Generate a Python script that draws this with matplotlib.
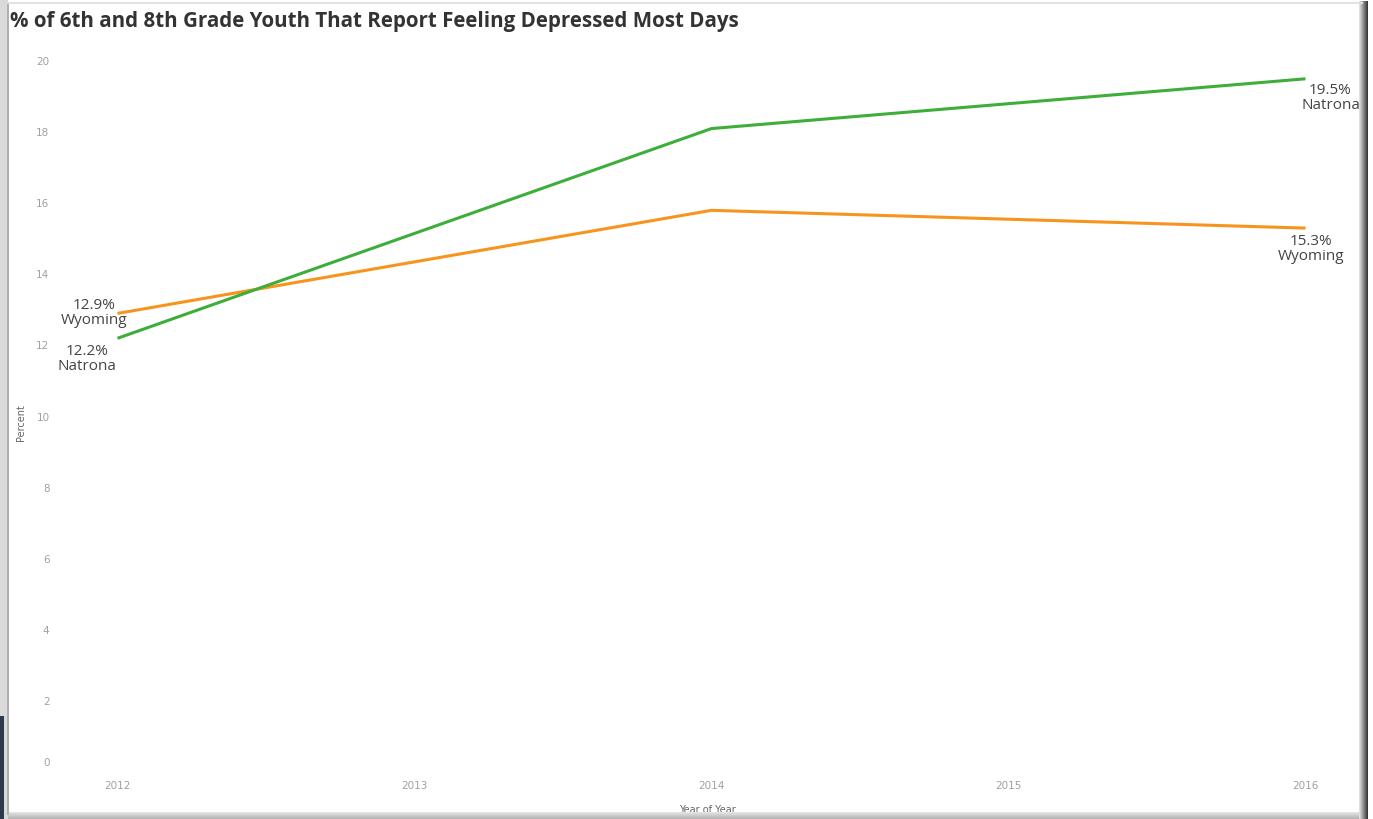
import numpy as np
import matplotlib
matplotlib.use("Agg")
import matplotlib.pyplot as plt
from matplotlib.patches import Rectangle
from matplotlib.transforms import ScaledTranslation

# ---- data -------------------------------------------------------------
years = [2012, 2014, 2016]
natrona = [12.2, 18.1, 19.5]
wyoming = [12.9, 15.8, 15.3]
series_names = ["Natrona", "Wyoming"]
x_ticks = [2012, 2013, 2014, 2015, 2016]
y_ticks = [0, 2, 4, 6, 8, 10, 12, 14, 16, 18, 20]

title = "% of 6th and 8th Grade Youth That Report Feeling Depressed Most Days"

GREEN = "#3DAE3A"
ORANGE = "#F7941D"
TEXT = "#444444"
TICK = "#a0a0a0"

W, H = 1373, 819
fig = plt.figure(figsize=(W / 100, H / 100), dpi=100)
fig.patch.set_facecolor("white")


def fx(p):
    return p / W


def fy(p):
    return 1 - p / H


# plot area in pixel terms
left, right, top, bottom = 55, 1360, 50, 780
ax = fig.add_axes([fx(left), fy(bottom), fx(right - left), (bottom - top) / H])
ax.set_xlim(2011.7896, 2016.1835)
ax.set_ylim(-0.225, 20.31)
for s in ax.spines.values():
    s.set_visible(False)

ax.plot(years, wyoming, color=ORANGE, lw=2.2, solid_capstyle="butt", clip_on=False)
ax.plot(years, natrona, color=GREEN, lw=2.2, solid_capstyle="butt", clip_on=False)

ax.set_xticks(x_ticks)
ax.set_xticklabels([str(x) for x in x_ticks])
ax.set_yticks(y_ticks)
ax.set_yticklabels([str(y) for y in y_ticks])
ax.tick_params(axis="both", length=0, colors=TICK, labelsize=7.5)
ax.tick_params(axis="y", pad=4)
ax.tick_params(axis="x", pad=1)
# lift the bottom y label off the baseline
lbl0 = ax.get_yticklabels()[0]
lbl0.set_transform(lbl0.get_transform() + ScaledTranslation(0, 10 / 100, fig.dpi_scale_trans))

ax.set_xlabel("Year of Year", fontsize=7, color="#666666", labelpad=10)
ax.set_ylabel("Percent", fontsize=7, color="#666666")
ax.yaxis.set_label_coords((26 - left) / (right - left), 0.49)

# end labels
lab_kw = dict(textcoords="offset points", ha="center", va="center",
              fontsize=11, color=TEXT, family="Open Sans", linespacing=1.0)
ax.annotate(f"{wyoming[0]}%\nWyoming", (years[0], wyoming[0]), xytext=(-17, 0), **lab_kw)
ax.annotate(f"{natrona[0]}%\nNatrona", (years[0], natrona[0]), xytext=(-22, -15), **lab_kw)
ax.annotate(f"{natrona[-1]}%\nNatrona", (years[-1], natrona[-1]), xytext=(18, -14), **lab_kw)
ax.annotate(f"{wyoming[-1]}%\nWyoming", (years[-1], wyoming[-1]), xytext=(4, -15), **lab_kw)

fig.text(fx(10), fy(22), title, fontsize=14.8, fontweight="bold", color="#333333",
         family="Open Sans", ha="left", va="center")

# ---- frame decoration ---------------------------------------------------
# left edge strip
fig.add_artist(Rectangle((0, 0), fx(8), 1, transform=fig.transFigure,
                         facecolor="#dadada", edgecolor="none"))
fig.add_artist(Rectangle((fx(7), fy(815)), fx(2), fy(4) - fy(815), transform=fig.transFigure,
                         facecolor="#b0b0b0", edgecolor="none"))
fig.add_artist(Rectangle((0, 0), fx(4), fy(716), transform=fig.transFigure,
                         facecolor="#2c3a4b", edgecolor="none"))
# top edge
fig.add_artist(Rectangle((fx(8), fy(4)), fx(1355), fy(2) - fy(4), transform=fig.transFigure,
                         facecolor="#e2e2e2", edgecolor="none"))
# bottom edge gradient
gb = fig.add_axes([fx(7), 0, fx(1358), 7 / H])
gb.imshow(np.linspace(0.93, 0.7, 20)[:, None], cmap="gray", vmin=0, vmax=1, aspect="auto")
gb.set_axis_off()
# right shadow gradient
gr = fig.add_axes([fx(1359), 0, fx(9), 1 - 1 / H])
gr.imshow(np.linspace(0.9, 0.2, 20)[None, :], cmap="gray", vmin=0, vmax=1, aspect="auto")
gr.set_axis_off()

fig.savefig("out.png", dpi=100, facecolor="white")
